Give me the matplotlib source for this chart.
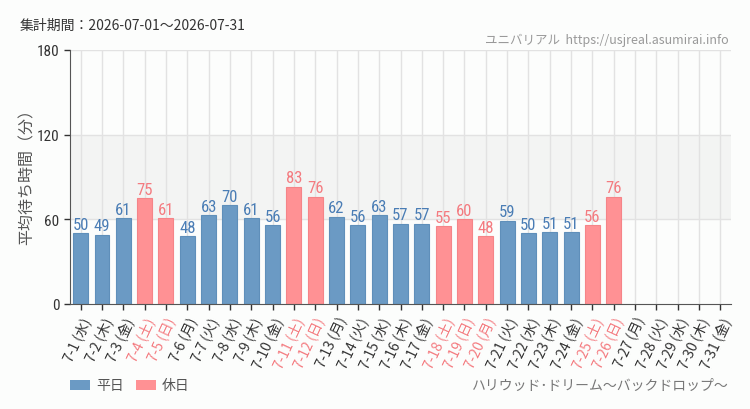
import matplotlib
matplotlib.use("Agg")
import matplotlib.pyplot as plt
from matplotlib.patches import Rectangle
from matplotlib import font_manager

plt.rcParams['font.family'] = ['Noto Sans CJK JP', 'DejaVu Sans']

names = {f.name for f in font_manager.fontManager.ttflist}
narrow = None
for cand in ["Liberation Sans Narrow", "DejaVu Sans Condensed", "Roboto Condensed"]:
    if cand in names:
        narrow = cand
        break

days = [f"7-{d}" for d in range(1, 32)]
weekdays = ["水", "木", "金", "土", "日", "月", "火"]
day_names = [weekdays[(d - 1) % 7] for d in range(1, 32)]
values = [50, 49, 61, 75, 61, 48, 63, 70, 61, 56, 83, 76, 62, 56, 63, 57, 57,
          55, 60, 48, 59, 50, 51, 51, 56, 76, None, None, None, None, None]
holidays = [4, 5, 11, 12, 18, 19, 20, 25, 26]

yticks = [0, 60, 120, 180]
title_text = "集計期間：2026-07-01〜2026-07-31"
source_text = "ユニバリアル  https://usjreal.asumirai.info"
attraction = "ハリウッド･ドリーム～バックドロップ～"
ylabel = "平均待ち時間（分）"
legend_labels = ["平日", "休日"]

blue = "#6b9ac4"
blue_edge = "#5f8fba"
blue_text = "#4a7db5"
pink = "#ff9194"
pink_edge = "#f58488"
pink_text = "#f47b80"
bg = "#fcfdfc"

fig = plt.figure(figsize=(7.5, 4.1), dpi=100, facecolor=bg)
ax = fig.add_axes([70/750, 1-305/410, 661/750, 254/410])
ax.set_facecolor(bg)

n = len(days)
ax.set_xlim(-0.5, n - 0.5)
ax.set_ylim(0, 180)

ax.add_patch(Rectangle((-0.5, 60), n, 60, facecolor="#f3f4f3", edgecolor="none", zorder=0))
for y in [60, 120, 180]:
    ax.axhline(y, color="#e2e2e2", lw=1, zorder=0.5)
for i in range(n):
    ax.axvline(i, color="#e2e2e2", lw=1, zorder=0.5)

num_family = [narrow] if narrow else ["DejaVu Sans"]
num_size = 12 if narrow else 10.5
for i, v in enumerate(values):
    if v is None:
        continue
    hol = (i + 1) in holidays
    ax.bar(i, v, width=0.7, color=pink if hol else blue,
           edgecolor=pink_edge if hol else blue_edge, lw=0.8, zorder=2)
    ax.text(i, v + 1, str(v), ha="center", va="bottom", fontsize=num_size,
            color=pink_text if hol else blue_text,
            family=num_family, zorder=3)

ax.set_yticks(yticks)
ax.set_yticklabels([str(t) for t in yticks], fontsize=11 if narrow else 10,
                   color="#333333", family=num_family)
ax.set_xticks(range(n))
ax.set_xticklabels([f"{d} ({w})" for d, w in zip(days, day_names)],
                   rotation=65, ha="right", rotation_mode="anchor", fontsize=10)
for i, lab in enumerate(ax.get_xticklabels()):
    lab.set_color(pink_text if (i + 1) in holidays else "#333333")

ax.tick_params(axis="both", length=4, color="#333333", width=1)
for s in ["top", "right"]:
    ax.spines[s].set_visible(False)
ax.spines["left"].set_color("#555555")
ax.spines["bottom"].set_color("#555555")

ax.set_ylabel(ylabel, fontsize=11.5, color="#555555")
ax.yaxis.set_label_coords(-(70 - 36) / 661, (305 - 173) / 254)

fig.text(20/750, 1-26/410, title_text, fontsize=10, color="#333333", va="center")
fig.text(729/750, 1-40/410, source_text, fontsize=9, color="#999999", va="center", ha="right")
fig.text(729/750, 1-386/410, attraction, fontsize=10, color="#777777", va="center", ha="right")

# legend
fig.patches.append(Rectangle((70/750, 1-391/410), 20/750, 10/410, transform=fig.transFigure,
                             facecolor=blue, edgecolor="none"))
fig.text(96/750, 1-386/410, legend_labels[0], fontsize=10, color="#555555", va="center")
fig.patches.append(Rectangle((136/750, 1-391/410), 20/750, 10/410, transform=fig.transFigure,
                             facecolor=pink, edgecolor="none"))
fig.text(162/750, 1-386/410, legend_labels[1], fontsize=10, color="#555555", va="center")

fig.savefig("out.png", dpi=100, facecolor=bg)
